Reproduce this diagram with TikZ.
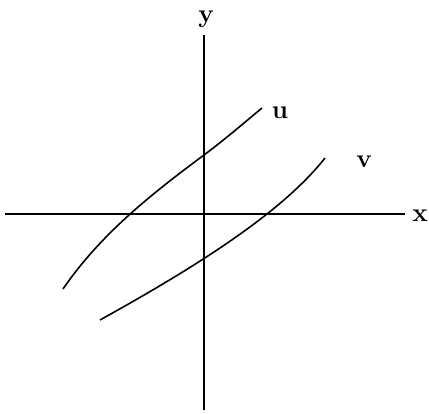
\documentclass[tikz,border=0pt]{standalone}
\begin{document}
\begin{tikzpicture}[x=1pt,y=-1pt,
  axis/.style={line width=1.8pt},
  curve/.style={line width=1.6pt},
  lbl/.style={font=\fontsize{26}{30}\selectfont\bfseries, inner sep=0pt, anchor=base}]
\useasboundingbox (0,0) rectangle (429,413);
% axes
\coordinate (xl) at (5,214);
\coordinate (xr) at (405,214);
\coordinate (yt) at (204,35);
\coordinate (yb) at (204,410);
\draw[axis] (xl) -- (xr);
\draw[axis] (yt) -- (yb);
\node[lbl] (xlab) at (420,221) {x};
\node[lbl] (ylab) at (206,22) {y};
% curve u
\coordinate (u0) at (63,289);
\coordinate (u1) at (204,155);
\coordinate (u2) at (262,108);
\draw[curve] (u0) .. controls (100,235) and (150,195) .. (u1)
                  .. controls (222,141.7) and (244,123) .. (u2);
\node[lbl] (ulab) at (280,118) {u};
% curve v
\coordinate (v0) at (100,320);
\coordinate (v1) at (325,158);
\draw[curve] (v0) .. controls (190,270) and (280,215) .. (v1);
\node[lbl] (vlab) at (364,167) {v};
\end{tikzpicture}
\end{document}
